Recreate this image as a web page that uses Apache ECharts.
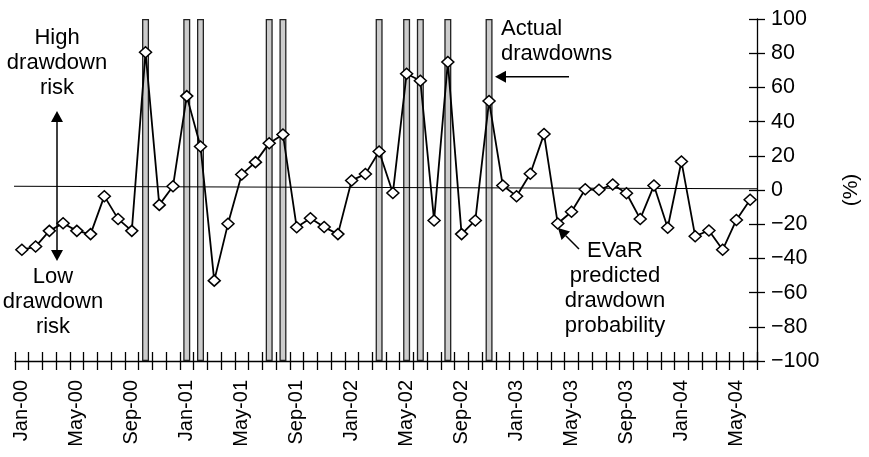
<!DOCTYPE html>
<html>
<head>
<meta charset="utf-8">
<script src="https://cdn.jsdelivr.net/npm/echarts@6/dist/echarts.min.js"></script>
<style>
  html, body { margin: 0; padding: 0; background: #ffffff; }
  #chart { width: 869px; height: 457px; }
</style>
</head>
<body>
<div id="chart"></div>
<script>
// Monthly categories, Jan-00 .. Jun-04
const monthNames = ['Jan', 'Feb', 'Mar', 'Apr', 'May', 'Jun', 'Jul', 'Aug', 'Sep', 'Oct', 'Nov', 'Dec'];
const years = ['00', '01', '02', '03', '04'];
const categories = [];
years.forEach(function (yy) {
  monthNames.forEach(function (m) {
    if (categories.length < 54) categories.push(m + '-' + yy);
  });
});

// EVaR predicted drawdown probability (%)
const evar = [
  -35.0, -33.1, -23.9, -19.4, -23.9, -25.8, -3.6, -16.9, -23.9, 80.6, -8.7, 2.2,
  54.9, 25.5, -53.0, -19.8, 9.1, 16.3, 27.4, 32.5, -21.8, -16.5, -21.7, -25.8,
  5.6, 9.3, 22.5, -1.8, 68.0, 63.9, -17.8, 74.8, -25.8, -17.8, 52.0, 2.6,
  -3.6, 9.5, 32.7, -19.6, -12.7, 0.4, 0.1, 3.2, -1.9, -16.9, 2.6, -22.1,
  16.7, -27.0, -23.7, -35.0, -17.5, -5.7
];

// Months with an actual drawdown
const drawdownMonths = ['Oct-00', 'Jan-01', 'Feb-01', 'Jul-01', 'Aug-01', 'Mar-02', 'May-02', 'Jun-02', 'Aug-02', 'Nov-02'];

// Reference (trend) line end points: [month position, %]
const trendX = [-0.72, 53.5];
const trendY = [2.2, 0.7];

// Y axis ticks
const yMin = -100, yMax = 100, yStep = 20;

const FONT = '"Liberation Sans", Arial, Helvetica, sans-serif';

const drawdownBars = categories.map(function (c) {
  return drawdownMonths.indexOf(c) >= 0 ? 1 : '-';
});
const trendData = trendX.map(function (x, i) { return [x, trendY[i]]; });

// Arrow helper: shaft from (x1,y1) to the head whose tip is at (x2,y2)
function arrow(x1, y1, x2, y2, head, half) {
  head = head || 11; half = half || 6;
  const dx = x2 - x1, dy = y2 - y1;
  const len = Math.sqrt(dx * dx + dy * dy);
  const ux = dx / len, uy = dy / len;
  const bx = x2 - ux * head, by = y2 - uy * head;
  const px = -uy * half, py = ux * half;
  return [
    { type: 'line', shape: { x1: x1, y1: y1, x2: bx, y2: by },
      style: { stroke: '#000', lineWidth: 1.5 }, z: 50 },
    { type: 'polygon', shape: { points: [[x2, y2], [bx + px, by + py], [bx - px, by - py]] },
      style: { fill: '#000' }, z: 50 }
  ];
}

function label(text, x, y, align) {
  return {
    type: 'text', z: 50,
    style: {
      text: text, x: x, y: y, fill: '#000',
      fontFamily: FONT, fontSize: 22, lineHeight: 24.7,
      align: align || 'center', verticalAlign: 'top'
    }
  };
}

const graphics = [].concat(
  label('High\ndrawdown\nrisk', 57, 26),
  arrow(57, 186, 57, 111),
  arrow(57, 186, 57, 261),
  label('Low\ndrawdown\nrisk', 53, 265),
  label('Actual\ndrawdowns', 501, 17, 'left'),
  arrow(569, 76.7, 495, 76.7),
  label('EVaR\npredicted\ndrawdown\nprobability', 615, 239),
  arrow(579, 249, 558, 228),
  [{
    type: 'text', z: 50, x: 851, y: 190, rotation: Math.PI / 2,
    style: { text: '(%)', fill: '#000', fontFamily: FONT, fontSize: 21,
             align: 'center', verticalAlign: 'middle' }
  }]
);

const chart = echarts.init(document.getElementById('chart'), null, { renderer: 'canvas' });

chart.setOption({
  animation: false,
  backgroundColor: '#ffffff',
  textStyle: { fontFamily: FONT },
  grid: { left: 15, right: 112, top: 19, bottom: 96, containLabel: false },
  xAxis: [
    {
      type: 'category', data: categories, position: 'bottom', boundaryGap: true,
      axisLine: { onZero: false, lineStyle: { color: '#000', width: 1.3 } },
      axisTick: { show: true, interval: 0, inside: false, length: 9, lineStyle: { color: '#000', width: 1.3 } },
      axisLabel: { interval: 3, rotate: 90, margin: 19, color: '#000', fontSize: 20, fontFamily: FONT },
      splitLine: { show: false }
    },
    {
      type: 'category', data: categories, position: 'bottom', boundaryGap: true,
      axisLine: { show: false, onZero: false },
      axisTick: { show: true, interval: 0, inside: true, length: 9, lineStyle: { color: '#000', width: 1.3 } },
      axisLabel: { show: false },
      splitLine: { show: false }
    },
    {
      type: 'value', min: -0.5, max: 53.5, show: false,
      axisLine: { onZero: false }
    }
  ],
  yAxis: [
    {
      type: 'value', position: 'right', min: yMin, max: yMax, interval: yStep,
      axisLine: { show: true, onZero: false, lineStyle: { color: '#000', width: 1.3 } },
      axisTick: { show: true, inside: false, length: 8, lineStyle: { color: '#000', width: 1.3 } },
      axisLabel: {
        margin: 14, color: '#000', fontSize: 21.5, fontFamily: FONT,
        formatter: function (v) { return v < 0 ? '\u2212' + Math.abs(v) : String(v); }
      },
      splitLine: { show: false }
    },
    {
      type: 'value', position: 'right', min: yMin, max: yMax, interval: yStep,
      axisLine: { show: false, onZero: false },
      axisTick: { show: true, inside: true, length: 8, lineStyle: { color: '#000', width: 1.3 } },
      axisLabel: { show: false },
      splitLine: { show: false }
    },
    {
      type: 'value', min: 0, max: 1, show: false,
      axisLine: { onZero: false }
    }
  ],
  series: [
    {
      name: 'Actual drawdowns', type: 'bar', xAxisIndex: 0, yAxisIndex: 2,
      data: drawdownBars, barWidth: 7,
      itemStyle: { color: '#cccccc', borderColor: '#222', borderWidth: 1.3 },
      z: 2, silent: true
    },
    {
      name: 'Trend', type: 'line', xAxisIndex: 2, yAxisIndex: 0,
      data: trendData, showSymbol: false, symbol: 'none', clip: false,
      lineStyle: { color: '#000', width: 1.1 }, z: 3, silent: true
    },
    {
      name: 'EVaR predicted drawdown probability', type: 'line', xAxisIndex: 0, yAxisIndex: 0,
      data: evar, symbol: 'diamond', symbolSize: [12, 11], showAllSymbol: true,
      lineStyle: { color: '#000', width: 1.8 },
      itemStyle: { color: '#ffffff', borderColor: '#000', borderWidth: 1.5 },
      z: 5, silent: true
    }
  ],
  graphic: graphics
});
</script>
</body>
</html>
